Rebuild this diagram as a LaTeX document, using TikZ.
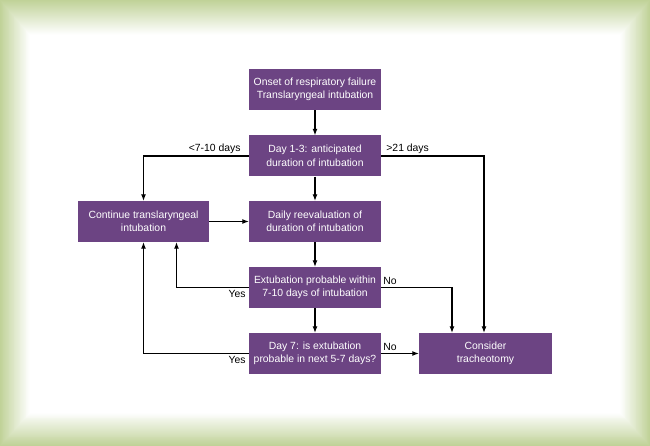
\documentclass[tikz,border=0pt]{standalone}
\usepackage{fontspec}
\setmainfont{Liberation Sans}
\usetikzlibrary{arrows.meta,calc}
\definecolor{boxpurple}{RGB}{108,68,131}
\definecolor{framegreen}{RGB}{192,210,152}
\tikzset{
  stepbox/.style={fill=boxpurple, text=white, align=center, minimum width=132pt, minimum height=41pt, inner sep=2pt, font=\fontsize{10.4}{13.5}\selectfont},
  conn/.style={line width=1.1pt, -{Latex[length=6.5pt,width=5pt]}},
  lbl/.style={inner sep=0pt, font=\fontsize{10.4}{12}\selectfont, text=black}
}
\begin{document}
\begin{tikzpicture}[x=1pt,y=-1pt]
\useasboundingbox (0,0) rectangle (650,446);
% frame background
\fill[framegreen] (0,0) rectangle (650,446);
\foreach \i in {0,...,36}{
  \pgfmathsetmacro{\w}{min(100,\i*2.9)}
  \fill[white!\w!framegreen] (\i*0.85,\i*1.0) rectangle (650-\i*0.85,446-\i*0.95);
}
% nodes
\node[stepbox] (onset) at (315,89.5) {Onset of respiratory failure\\Translaryngeal intubation};
\node[stepbox] (day13) at (315,156) {Day 1-3: anticipated\\duration of intubation};
\node[stepbox, minimum width=131pt] (cont) at (143.5,221.5) {Continue translaryngeal\\intubation};
\node[stepbox] (daily) at (315,221.5) {Daily reevaluation of\\duration of intubation};
\node[stepbox] (extub) at (315,287.5) {Extubation probable within\\7-10 days of intubation};
\node[stepbox] (day7) at (315,353.5) {Day 7: is extubation\\probable in next 5-7 days?};
\node[stepbox, minimum width=133pt] (cons) at (485.5,353.5) {Consider\\tracheotomy};
% connectors
\draw[conn] (onset) -- (day13);
\draw[conn] (day13) -- (daily);
\draw[conn] (daily) -- (extub);
\draw[conn] (extub) -- (day7);
\draw[conn] (cont) -- (daily);
\draw[conn] (day7) -- (cons);
\draw[conn] (day13.west) -| (cont.north);
\draw[conn] (day13.east) -| ([xshift=-1.5]cons.north);
\draw[conn] (extub.west) -| ([xshift=33]cont.south);
\draw[conn] (extub.east) -| ([xshift=-33.5]cons.north);
\draw[conn] (day7.west) -| (cont.south);
% labels
\node[lbl, anchor=south east] (l1) at ([xshift=-8,yshift=2.5]day13.west) {<7-10 days};
\node[lbl, anchor=south west] (l2) at ([xshift=5,yshift=2.5]day13.east) {>21 days};
\node[lbl, anchor=north east] (l3) at ([xshift=-3,yshift=-3]extub.west) {Yes};
\node[lbl, anchor=north east] (l4) at ([xshift=-3,yshift=-3]day7.west) {Yes};
\node[lbl, anchor=south west] (l5) at ([xshift=2,yshift=3]extub.east) {No};
\node[lbl, anchor=south west] (l6) at ([xshift=2,yshift=3]day7.east) {No};
\end{tikzpicture}
\end{document}
